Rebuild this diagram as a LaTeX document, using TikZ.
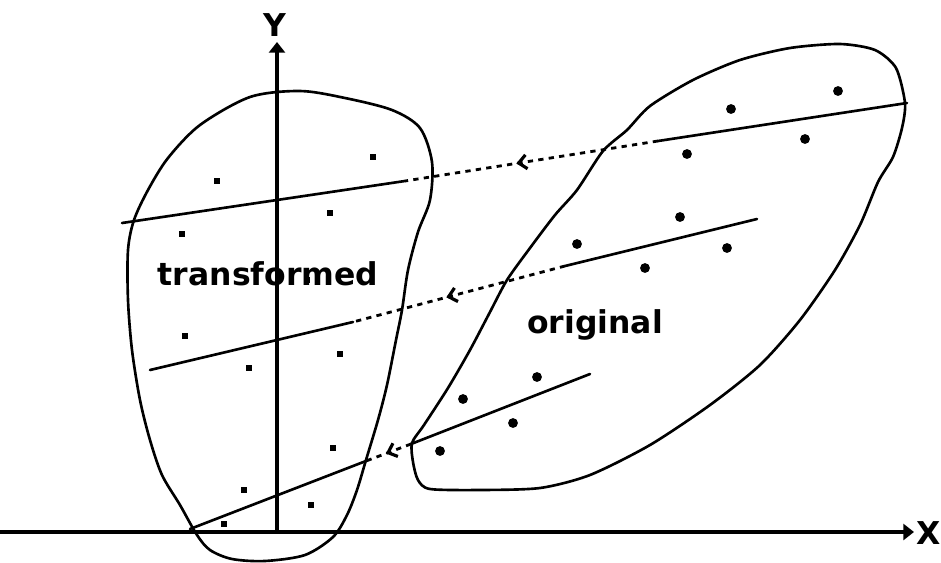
\documentclass[tikz,border=0pt]{standalone}
\usepackage{fontspec}
\newfontfamily\lblfont{DejaVu Sans}
\usetikzlibrary{arrows.meta, decorations.markings}

\begin{document}
\begin{tikzpicture}[
    x=0.02cm, y=-0.02cm,
    axis/.style={line width=2.8pt, -{Triangle[length=6pt, width=9pt]}},
    blob/.style={line width=1.5pt, line join=round},
    fitline/.style={line width=1.5pt, line cap=round},
    mapline/.style={line width=1.6pt, dash pattern=on 3pt off 3pt,
        postaction={decorate},
        decoration={markings, mark=at position 0.56 with
            {\arrow[solid]{Straight Barb[length=4.5pt, width=8pt, line width=1.8pt]}}}},
    odot/.style={circle, fill=black, inner sep=0pt, minimum size=5.6pt},
    tdot/.style={rectangle, fill=black, inner sep=0pt, minimum size=3pt},
    lbl/.style={font=\lblfont\bfseries\fontsize{17.9}{20}\selectfont, inner sep=0pt},
]
\useasboundingbox (0,0) rectangle (941,562);

%% Axes
\coordinate (xstart) at (0,532);
\coordinate (xend)   at (914,532);
\coordinate (ybase)  at (277,532);
\coordinate (yend)   at (277,42);
\draw[axis] (xstart) -- (xend);
\draw[axis] (ybase) -- (yend);
\node[lbl, anchor=east] (xlbl) at (941,533) {X};
\node[lbl] (ylbl) at (275,25) {Y};

%% Transformed set
\draw[blob] plot[smooth cycle] coordinates {
    (250,97) (300,91) (345,98) (392,110) (420,128) (432,162) (430,200)
    (418,232) (408,270) (402,310) (396,340) (387,385) (378,420) (366,460)
    (357,490) (347,515) (333,537) (305,555) (265,561) (232,559) (210,550)
    (197,535) (180,505) (162,475) (150,440) (140,400) (132,350) (128,300)
    (128,250) (134,220) (148,190) (168,158) (200,125)};

%% Original set
\draw[blob] plot[smooth cycle, tension=0.45] coordinates {
    (905,103) (902,128) (893,157) (878,182) (860,225) (835,270) (800,320)
    (760,365) (710,405) (650,445) (590,475) (540,488) (480,490) (430,489)
    (418,480) (413,462) (412,443) (424,425) (448,388) (470,350) (490,312)
    (507,280) (530,248) (555,215) (577,190) (603,151) (627,130) (650,106)
    (693,80) (740,60) (790,48) (840,44) (875,50) (896,68)};

%% Points
\foreach \p [count=\i] in {(838,91),(731,109),(687,154),(805,139),(680,217),(577,244),
    (727,248),(645,268),(537,377),(463,399),(513,423),(440,451)}
    \node[odot] (od\i) at \p {};
\foreach \p [count=\i] in {(373,157),(217,181),(330,213),(182,234),(307,280),(185,336),
    (340,354),(249,368),(333,448),(244,490),(311,505),(224,524)}
    \node[tdot] (td\i) at \p {};

%% Fitted lines and their mapping
\coordinate (o1r) at (907,103); \coordinate (o1l) at (658,141);
\coordinate (t1r) at (405,181); \coordinate (t1l) at (122,223);
\coordinate (o2r) at (757,219); \coordinate (o2l) at (565,266);
\coordinate (t2r) at (353,322); \coordinate (t2l) at (150,370);
\coordinate (o3r) at (590,374); \coordinate (o3l) at (411,444);
\coordinate (t3r) at (366,461); \coordinate (t3l) at (190,529);

\draw[fitline] (o1r) -- (o1l);
\draw[mapline] (o1l) -- (t1r);
\draw[fitline] (t1r) -- (t1l);

\draw[fitline] (o2r) -- (o2l);
\draw[mapline] (o2l) -- (t2r);
\draw[fitline] (t2r) -- (t2l);

\draw[fitline] (o3r) -- (o3l);
\draw[mapline] (o3l) -- (t3r);
\draw[fitline] (t3r) -- (t3l);

%% Labels
\node[lbl, anchor=base] (tlbl) at (268,285) {transformed};
\node[lbl, anchor=base] (olbl) at (595,333) {original};

\end{tikzpicture}
\end{document}
